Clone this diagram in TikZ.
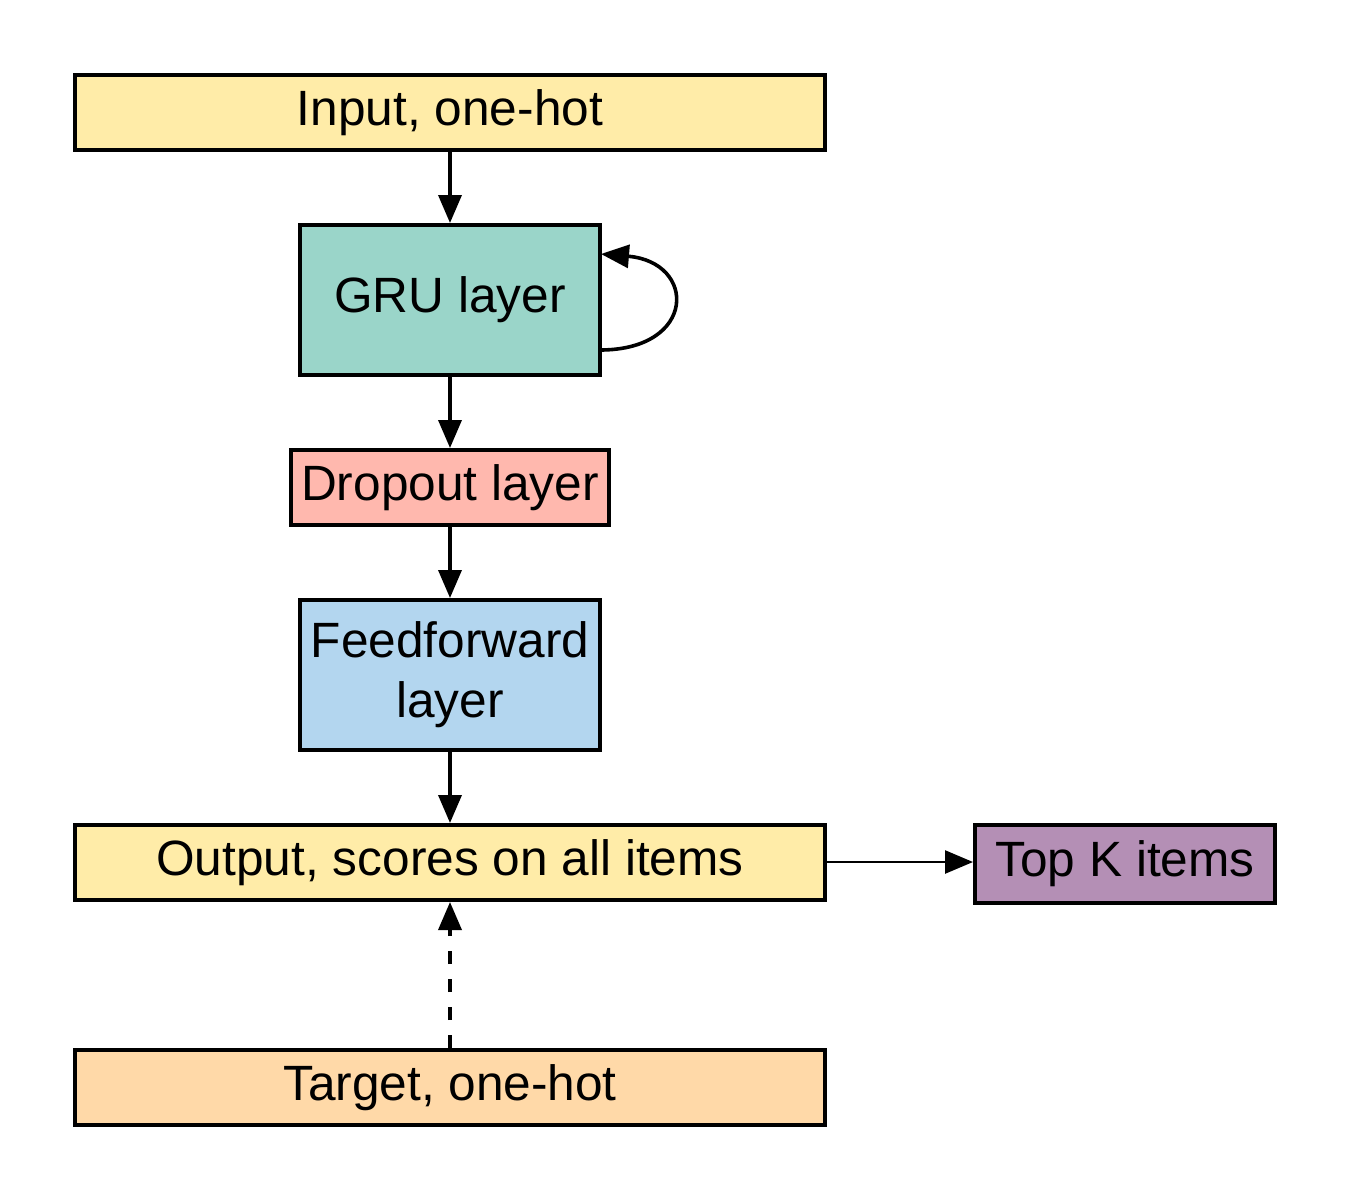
\documentclass[tikz,border=0pt]{standalone}
\usepackage{fontspec}
\setmainfont{Liberation Sans}
\usetikzlibrary{arrows.meta}
\definecolor{cyel}{HTML}{FFECA8}
\definecolor{cgru}{HTML}{9AD5C9}
\definecolor{cdrop}{HTML}{FFB8AE}
\definecolor{cff}{HTML}{B3D6EF}
\definecolor{ctop}{HTML}{B48FB5}
\definecolor{ctgt}{HTML}{FFD9A8}
\tikzset{
  box/.style={draw=black, line width=2pt, inner sep=0pt, align=center,
    font=\fontsize{24.8}{30}\selectfont},
  conn/.style={line width=1.8pt, -{Triangle[length=14pt,width=11.5pt]}},
  thinconn/.style={line width=1.3pt, -{Triangle[length=14pt,width=11.5pt]}},
}
\begin{document}
\begin{tikzpicture}[x=0.5pt,y=-0.5pt]
\useasboundingbox (0,0) rectangle (1350,1200);
\node[box, fill=cyel, minimum width=375pt, minimum height=37.5pt] (inp) at (450,112.5) {Input, one-hot};
\node[box, fill=cgru, minimum width=150pt, minimum height=75pt] (gru) at (450,300) {GRU layer};
\node[box, fill=cdrop, minimum width=159pt, minimum height=37.5pt] (drop) at (450,487.5) {Dropout layer};
\node[box, fill=cff, minimum width=150pt, minimum height=75pt] (ff) at (450,675) {Feedforward\\layer};
\node[box, fill=cyel, minimum width=375pt, minimum height=37.5pt] (out) at (450,862.5) {Output, scores on all items};
\node[box, fill=ctop, minimum width=150pt, minimum height=39pt] (top) at (1125,864) {Top K items};
\node[box, fill=ctgt, minimum width=375pt, minimum height=37.5pt] (tgt) at (450,1087.5) {Target, one-hot};

\coordinate (loopA) at (600,350);
\coordinate (loopB) at (601,254);
\draw[conn] (inp) -- (gru);
\draw[conn] (gru) -- (drop);
\draw[conn] (drop) -- (ff);
\draw[conn] (ff) -- (out);
\draw[conn] (loopA) .. controls (697,350) and (697,262) .. (loopB);
\draw[thinconn] (out.east |- 0,862) -- (top.west |- 0,862);
\draw[conn, dash pattern=on 6.5pt off 7.5pt] (tgt) -- (out);
\end{tikzpicture}
\end{document}
